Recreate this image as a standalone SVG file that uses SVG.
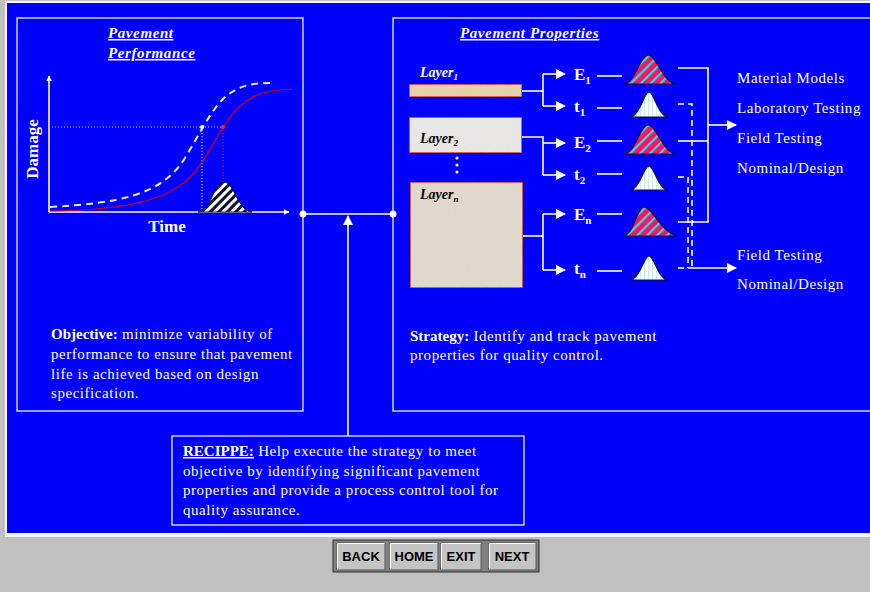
<svg xmlns="http://www.w3.org/2000/svg" width="870" height="592" viewBox="0 0 870 592">
  <style>
    .panel { fill: none; stroke: #d0d0ff; stroke-width: 1.5; }
    .wire { fill: none; stroke: #ffffff; stroke-width: 1.6; }
    .dash { fill: none; stroke: #ffffff; stroke-width: 1.6; stroke-dasharray: 6 4; }
    .txt { font-family: "Liberation Serif", "Times New Roman", serif; font-size: 15px; letter-spacing: 0.55px; fill: #ffffff; }
    .title { font-family: "Liberation Serif", "Times New Roman", serif; font-size: 15px; letter-spacing: 0.6px; font-style: italic; font-weight: bold; fill: #ffffff; text-decoration: underline; }
    .lbl { font-family: "Liberation Serif", "Times New Roman", serif; font-size: 17px; font-weight: bold; fill: #ffffff; }
    .layer { font-family: "Liberation Serif", "Times New Roman", serif; font-size: 14px; font-style: italic; font-weight: bold; }
    .btn rect.face { fill: #c4c4c4; stroke: #5a5a5a; stroke-width: 1; }
    .btn text { font-family: "Liberation Sans", Arial, sans-serif; font-size: 13px; font-weight: bold; fill: #000000; text-anchor: middle; }
    .ebell { fill: url(#redHatch); stroke: #101030; stroke-width: 1.2; }
    .tbell { fill: url(#vStripe); stroke: #101030; stroke-width: 1.2; }
  </style>
  <defs>
    <marker id="arrow" viewBox="0 0 10 10" refX="9" refY="5" markerWidth="6" markerHeight="6" orient="auto" markerUnits="userSpaceOnUse">
      <path d="M0,0 L10,5 L0,10 z" fill="#ffffff"/>
    </marker>
    <marker id="arrowBig" viewBox="0 0 10 10" refX="9" refY="5" markerWidth="10" markerHeight="10" orient="auto" markerUnits="userSpaceOnUse">
      <path d="M0,0 L10,5 L0,10 z" fill="#ffffff"/>
    </marker>
    <pattern id="redHatch" width="7" height="7" patternUnits="userSpaceOnUse" patternTransform="rotate(45)">
      <rect width="7" height="7" fill="#ff1060"/>
      <rect width="2.2" height="7" fill="#20e0e8"/>
    </pattern>
    <pattern id="bwHatch" width="6" height="6" patternUnits="userSpaceOnUse" patternTransform="rotate(45)">
      <rect width="6" height="6" fill="#101030"/>
      <rect width="3" height="6" fill="#ffffff"/>
    </pattern>
    <pattern id="vStripe" width="4" height="4" patternUnits="userSpaceOnUse">
      <rect width="4" height="4" fill="#ffffff"/>
      <rect width="1" height="4" fill="#c4ecf2"/>
    </pattern>
    <filter id="grain" x="0" y="0" width="100%" height="100%">
      <feTurbulence type="fractalNoise" baseFrequency="0.9" numOctaves="2" seed="3" result="n"/>
      <feColorMatrix in="n" type="matrix" values="0 0 0 0 0.55  0 0 0 0 0.5  0 0 0 0 0.45  0 0 0 0.25 0" result="g"/>
      <feComposite in="g" in2="SourceGraphic" operator="in" result="gi"/>
      <feMerge><feMergeNode in="SourceGraphic"/><feMergeNode in="gi"/></feMerge>
    </filter>
  </defs>

  <!-- page background and blue canvas -->
  <rect x="0" y="0" width="870" height="592" fill="#c0c0c0"/>
  <rect x="5" y="1" width="865" height="536" fill="#f4f4ff"/>
  <rect x="7" y="3" width="863" height="530" fill="#0000ff"/>

  <!-- Pavement Performance panel -->
  <g id="performance">
    <rect class="panel" x="17" y="18" width="286" height="393"/>
    <text class="title" x="108" y="38">Pavement</text>
    <text class="title" x="108" y="58">Performance</text>
    <!-- axes -->
    <line class="wire" x1="49" y1="212" x2="49" y2="76" marker-end="url(#arrow)"/>
    <line class="wire" x1="49" y1="212" x2="289" y2="212" marker-end="url(#arrow)"/>
    <text class="lbl" x="0" y="0" transform="translate(38,149) rotate(-90)" text-anchor="middle" font-size="15">Damage</text>
    <text class="lbl" x="167" y="232" text-anchor="middle" font-size="15">Time</text>
    <!-- reference levels -->
    <line x1="49" y1="127" x2="223" y2="127" stroke="#c8c8ff" stroke-width="1" stroke-dasharray="1 2"/>
    <line x1="202" y1="127" x2="202" y2="212" stroke="#ffffff" stroke-width="1" stroke-dasharray="1 2"/>
    <line x1="223" y1="127" x2="223" y2="212" stroke="#ff2020" stroke-width="1" stroke-dasharray="1 2"/>
    <!-- life distribution -->
    <path d="M198,212 C211,211 214,182 224,182 C234,182 238,211 252,212 Z" fill="url(#bwHatch)" stroke="#101030" stroke-width="1"/>
    <!-- damage curves -->
    <path d="M50,207 C120,203 162,195 185,158 C198,137 208,115 222,100 C238,84 255,83 273,83" fill="none" stroke="#e8e8ff" stroke-width="2" stroke-dasharray="7 5"/>
    <path d="M50,211 C130,210 178,200 200,165 C212,147 218,135 225,124 C243,96 262,90 292,89" fill="none" stroke="#e00000" stroke-width="1.2"/>
    <circle cx="202" cy="127" r="2" fill="#ffffff"/>
    <circle cx="223" cy="127" r="2" fill="#ff2020"/>
    <text class="txt" x="51" y="339"><tspan font-weight="bold" letter-spacing="0">Objective:</tspan> minimize variability of</text>
    <text class="txt" x="51" y="359">performance to ensure that pavement</text>
    <text class="txt" x="51" y="379">life is achieved based on design</text>
    <text class="txt" x="51" y="398">specification.</text>
  </g>

  <!-- Pavement Properties panel -->
  <g id="properties">
    <rect class="panel" x="393" y="18" width="490" height="393"/>
    <text class="title" x="460" y="38">Pavement Properties</text>
    <text class="txt" x="410" y="341"><tspan font-weight="bold" letter-spacing="0">Strategy:</tspan> Identify and track pavement</text>
    <text class="txt" x="410" y="360">properties for quality control.</text>
  </g>

  <g id="layer1">
    <text class="layer" x="420" y="77" fill="#ffffff">Layer<tspan font-size="9" dy="3">1</tspan></text>
    <rect x="409" y="84" width="113" height="13" fill="#ecd4ac" stroke="#c01818" stroke-width="1.5" filter="url(#grain)"/>
  </g>
  <g id="layer2">
    <rect x="409" y="117" width="113" height="36" fill="#ececec" stroke="#c01818" stroke-width="1.5" filter="url(#grain)"/>
    <text class="layer" x="420" y="143" fill="#000000">Layer<tspan font-size="9" dy="3">2</tspan></text>
  </g>
  <g id="ellipsis">
    <circle cx="457" cy="158" r="1.6" fill="#ffffff"/>
    <circle cx="457" cy="165" r="1.6" fill="#ffffff"/>
    <circle cx="457" cy="172" r="1.6" fill="#ffffff"/>
  </g>
  <g id="layern">
    <rect x="410" y="182" width="113" height="106" fill="#e4dccf" stroke="#c01818" stroke-width="1.5" filter="url(#grain)"/>
    <text class="layer" x="420" y="199" fill="#000000">Layer<tspan font-size="9" dy="3">n</tspan></text>
  </g>

  <!-- property labels -->
  <g id="labels">
    <text class="lbl" x="574" y="80">E<tspan font-size="11" dy="4">1</tspan></text>
    <text class="lbl" x="574" y="112">t<tspan font-size="11" dy="4">1</tspan></text>
    <text class="lbl" x="574" y="148">E<tspan font-size="11" dy="4">2</tspan></text>
    <text class="lbl" x="574" y="180">t<tspan font-size="11" dy="4">2</tspan></text>
    <text class="lbl" x="574" y="220">E<tspan font-size="11" dy="4">n</tspan></text>
    <text class="lbl" x="574" y="274">t<tspan font-size="11" dy="4">n</tspan></text>
  </g>

  <!-- distributions -->
  <g id="distributions">
    <path class="ebell" d="M623,84 C636,83 640,55 648,55 C657,55 662,82 676,84 Z"/>
    <path class="tbell" d="M630,117 C640,116 644,92 649,92 C654,92 658,116 668,117 Z"/>
    <path class="ebell" d="M623,154 C636,153 640,125 648,125 C657,125 662,152 676,154 Z"/>
    <path class="tbell" d="M630,190 C640,189 644,166 649,166 C654,166 658,189 668,190 Z"/>
    <path class="ebell" d="M623,236 C634,235 637,207 644,207 C652,207 660,230 676,236 Z"/>
    <path class="tbell" d="M630,280 C640,279 644,256 649,256 C654,256 658,279 668,280 Z"/>
  </g>

  <!-- application targets -->
  <g id="targets">
    <text class="txt" x="737" y="83">Material Models</text>
    <text class="txt" x="737" y="113">Laboratory Testing</text>
    <text class="txt" x="737" y="143">Field Testing</text>
    <text class="txt" x="737" y="173">Nominal/Design</text>
    <text class="txt" x="737" y="260">Field Testing</text>
    <text class="txt" x="737" y="289">Nominal/Design</text>
  </g>

  <!-- RECIPPE box -->
  <g id="recippe">
    <rect class="panel" x="172" y="436" width="352" height="89"/>
    <text class="txt" x="183" y="456"><tspan font-weight="bold" letter-spacing="0" text-decoration="underline">RECIPPE:</tspan> Help execute the strategy to meet</text>
    <text class="txt" x="183" y="476">objective by identifying significant pavement</text>
    <text class="txt" x="183" y="495">properties and provide a process control tool for</text>
    <text class="txt" x="183" y="515">quality assurance.</text>
  </g>

  <!-- connectors -->
  <g id="connectors">
    <line class="wire" x1="303" y1="214" x2="393" y2="214"/>
    <line class="wire" x1="348" y1="436" x2="348" y2="216" marker-end="url(#arrowBig)"/>
    <circle cx="303" cy="214" r="3.5" fill="#ffffff"/>
    <circle cx="393" cy="214" r="3.5" fill="#ffffff"/>

    <!-- layer branches -->
    <polyline class="wire" points="522,91 543,91"/>
    <polyline class="wire" points="543,74 543,106"/>
    <line class="wire" x1="543" y1="74" x2="565" y2="74" marker-end="url(#arrowBig)"/>
    <line class="wire" x1="543" y1="106" x2="565" y2="106" marker-end="url(#arrowBig)"/>

    <polyline class="wire" points="522,137 543,137 543,175"/>
    <line class="wire" x1="543" y1="143" x2="565" y2="143" marker-end="url(#arrowBig)"/>
    <line class="wire" x1="543" y1="175" x2="565" y2="175" marker-end="url(#arrowBig)"/>

    <polyline class="wire" points="523,236 543,236"/>
    <polyline class="wire" points="543,214 543,270"/>
    <line class="wire" x1="543" y1="214" x2="565" y2="214" marker-end="url(#arrowBig)"/>
    <line class="wire" x1="543" y1="270" x2="565" y2="270" marker-end="url(#arrowBig)"/>

    <!-- label to distribution -->
    <line class="wire" x1="597" y1="76" x2="622" y2="76"/>
    <line class="wire" x1="597" y1="108" x2="622" y2="108"/>
    <line class="wire" x1="597" y1="141" x2="622" y2="141"/>
    <line class="wire" x1="597" y1="174" x2="622" y2="174"/>
    <line class="wire" x1="597" y1="214" x2="622" y2="214"/>
    <line class="wire" x1="597" y1="271" x2="622" y2="271"/>

    <!-- modulus outputs -->
    <polyline class="wire" points="678,68 708,68 708,222 678,222"/>
    <line class="wire" x1="678" y1="141" x2="708" y2="141"/>
    <line class="wire" x1="708" y1="125" x2="736" y2="125" marker-end="url(#arrowBig)"/>

    <!-- thickness outputs -->
    <polyline class="dash" points="678,104 692,104 692,268"/>
    <polyline class="dash" points="678,177 688,177 688,268"/>
    <line class="dash" x1="678" y1="268" x2="688" y2="268"/>
    <line class="wire" x1="688" y1="268" x2="736" y2="268" marker-end="url(#arrowBig)"/>
  </g>

  <!-- navigation buttons -->
  <g id="navigation">
    <rect x="333" y="540" width="206" height="32" fill="#808080" stroke="#303030" stroke-width="1"/>
    <g class="btn" id="btn-back">
      <rect class="face" x="337" y="543" width="48" height="27"/>
      <path d="M337.5,569.5 V543.5 H384.5" fill="none" stroke="#ffffff"/>
      <text x="361" y="561">BACK</text>
    </g>
    <g class="btn" id="btn-home">
      <rect class="face" x="390" y="543" width="48" height="27"/>
      <path d="M390.5,569.5 V543.5 H437.5" fill="none" stroke="#ffffff"/>
      <text x="414" y="561">HOME</text>
    </g>
    <g class="btn" id="btn-exit">
      <rect class="face" x="441" y="543" width="40" height="27"/>
      <path d="M441.5,569.5 V543.5 H480.5" fill="none" stroke="#ffffff"/>
      <text x="461" y="561">EXIT</text>
    </g>
    <g class="btn" id="btn-next">
      <rect class="face" x="489" y="543" width="47" height="27"/>
      <path d="M489.5,569.5 V543.5 H535.5" fill="none" stroke="#ffffff"/>
      <text x="512" y="561">NEXT</text>
    </g>
  </g>
</svg>
